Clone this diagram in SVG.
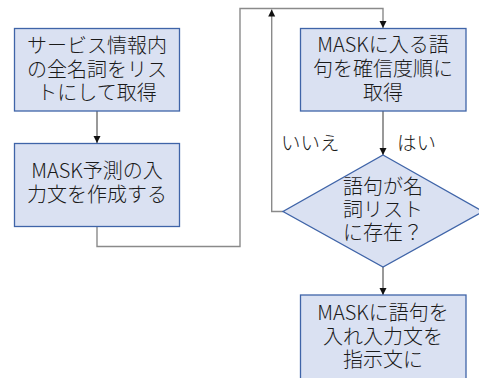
<svg xmlns="http://www.w3.org/2000/svg" width="479" height="378" viewBox="0 0 479 378">
<defs>
<style>
.box{fill:#DAE1F2;stroke:#3F64A8;stroke-width:1.3}
.t{font-family:"Noto Sans CJK JP","Noto Sans",sans-serif;font-size:20px;font-weight:300;fill:#1a1a1a;text-anchor:middle}
.l{font-family:"Noto Sans CJK JP","Noto Sans",sans-serif;font-size:19.5px;font-weight:300;fill:#1a1a1a}
.c{fill:none;stroke:#555;stroke-width:1.2}
.c2{fill:none;stroke:#8a8a8a;stroke-width:1.4}
</style>
<marker id="ah" markerWidth="8" markerHeight="8" refX="7" refY="4" orient="auto" markerUnits="userSpaceOnUse">
<path d="M0,0.5 L7,4 L0,7.5 Z" fill="#111"/>
</marker>
</defs>
<rect width="479" height="378" fill="#fff"/>
<g id="connectors">
<line class="c" x1="97" y1="111" x2="97" y2="143" marker-end="url(#ah)"/>
<polyline class="c2" points="97,227 97,246.5 240,246.5 240,8.5 383,8.5 383,28" marker-end="url(#ah)"/>
<line class="c" x1="383" y1="111" x2="383" y2="155" marker-end="url(#ah)"/>
<polyline class="c2" points="283,211.5 271.7,211.5 271.7,9.5" marker-end="url(#ah)"/>
<line class="c" x1="383" y1="267" x2="383" y2="295" marker-end="url(#ah)"/>
<text class="l" x="281" y="150">いいえ</text>
<text class="l" x="397" y="150">はい</text>
</g>
<g id="n1">
<rect class="box" x="14.5" y="28.5" width="165" height="82.5"/>
<text class="t"><tspan x="97" y="53">サービス情報内</tspan><tspan x="97" y="76.5">の全名詞をリス</tspan><tspan x="97" y="100">トにして取得</tspan></text>
</g>
<g id="n2">
<rect class="box" x="14.5" y="143.5" width="165" height="83"/>
<text class="t"><tspan x="97" y="178">MASK予測の入</tspan><tspan x="97" y="202">力文を作成する</tspan></text>
</g>
<g id="n3">
<rect class="box" x="300.5" y="28.5" width="165.5" height="82.5"/>
<text class="t"><tspan x="383" y="52">MASKに入る語</tspan><tspan x="383" y="75.5">句を確信度順に</tspan><tspan x="383" y="99.5">取得</tspan></text>
</g>
<g id="n4">
<polygon class="box" points="383,155 483,211.5 383,267 283,211.5"/>
<text class="t"><tspan x="383" y="193.5">語句が名</tspan><tspan x="383" y="216.5">詞リスト</tspan><tspan x="383" y="240">に存在？</tspan></text>
</g>
<g id="n5">
<rect class="box" x="300.5" y="295" width="165.5" height="100"/>
<text class="t"><tspan x="383" y="320">MASKに語句を</tspan><tspan x="383" y="344">入れ入力文を</tspan><tspan x="383" y="367">指示文に</tspan></text>
</g>
</svg>
